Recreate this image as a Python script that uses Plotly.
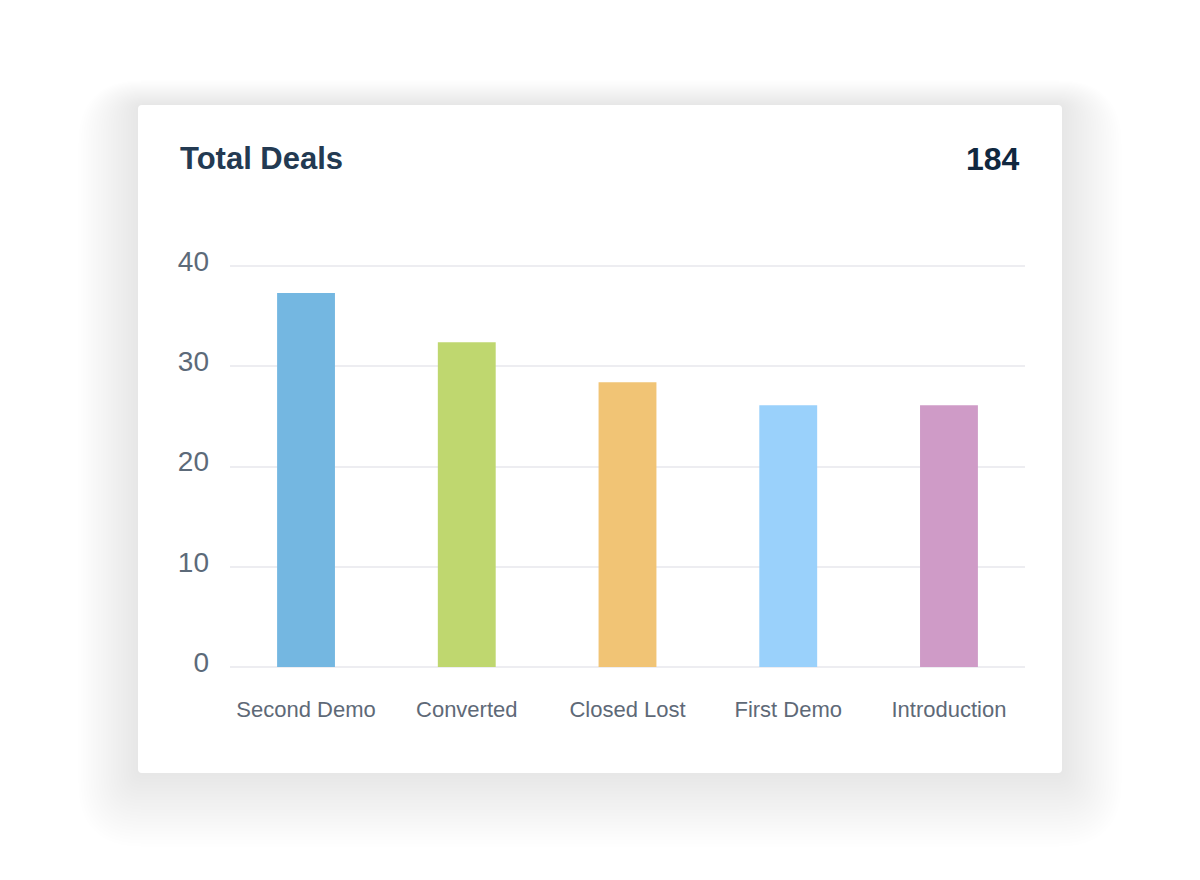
import plotly.graph_objects as go

categories = ["Second Demo", "Converted", "Closed Lost", "First Demo", "Introduction"]
deals = [37.3, 32.4, 28.4, 26.1, 26.1]
bar_colors = ["#74b7e1", "#bfd76f", "#f1c475", "#9ad1fb", "#cf9bc7"]
y_ticks = [0, 10, 20, 30, 40]
title_text = "Total Deals"
total_text = "184"

W, H = 1200, 880
OFF = 8  # page body margin
PX_PER_UNIT = (667 - 266) / 40
L, R, T, B = 230 - OFF, 1025 - OFF, 262 - OFF, 667 - OFF  # plot area in figure px
Y_MAX = (B - T) / PX_PER_UNIT


def px(x):
    return (x - OFF - L) / (R - L)


def py(y):
    return (B - (y - OFF)) / (B - T)


def rrect(x0, y0, x1, y1, r):
    pts = [
        f"M {px(x0 + r)},{py(y0)}",
        f"L {px(x1 - r)},{py(y0)}",
        f"Q {px(x1)},{py(y0)} {px(x1)},{py(y0 + r)}",
        f"L {px(x1)},{py(y1 - r)}",
        f"Q {px(x1)},{py(y1)} {px(x1 - r)},{py(y1)}",
        f"L {px(x0 + r)},{py(y1)}",
        f"Q {px(x0)},{py(y1)} {px(x0)},{py(y1 - r)}",
        f"L {px(x0)},{py(y0 + r)}",
        f"Q {px(x0)},{py(y0)} {px(x0 + r)},{py(y0)}",
        "Z",
    ]
    return " ".join(pts)


shapes = []
n = 24
for i in range(n):
    s = 60 * (n - i) / n
    off = 20 * (n - i) / n
    shapes.append(dict(
        type="path", xref="paper", yref="paper", layer="below",
        path=rrect(138 - s, 105 - s * 0.75 + off, 1062 + s, 773 + s * 0.9 + off, 4 + s),
        fillcolor="rgba(0,0,0,0.003)", line=dict(width=0),
    ))
shapes.append(dict(
    type="path", xref="paper", yref="paper", layer="below",
    path=rrect(138, 105, 1062, 773, 4),
    fillcolor="#ffffff", line=dict(width=0),
))

fig = go.Figure()
fig.add_trace(go.Bar(
    x=list(range(len(categories))), y=deals,
    marker=dict(color=bar_colors, line=dict(width=0)),
    width=0.36, hoverinfo="skip",
))

fig.update_layout(
    width=W, height=H, autosize=False,
    margin=dict(l=L, r=W - R, t=T, b=H - B, pad=0),
    paper_bgcolor="#ffffff", plot_bgcolor="rgba(0,0,0,0)",
    showlegend=False,
    shapes=shapes,
    font=dict(family="Liberation Sans, Arial, sans-serif"),
    xaxis=dict(
        range=[-0.473, 4.473], tickmode="array",
        tickvals=list(range(len(categories))), ticktext=categories,
        showgrid=False, zeroline=False, showline=False, ticks="",
        tickfont=dict(size=22, color="#5e6977"), ticklabelstandoff=27,
        fixedrange=True,
    ),
    yaxis=dict(
        range=[0, Y_MAX], tickmode="array", tickvals=y_ticks,
        showgrid=True, gridcolor="#ededf1", gridwidth=2,
        zeroline=True, zerolinecolor="#ededf1", zerolinewidth=2,
        showline=False, ticks="",
        tickfont=dict(size=28, color="#5c6a79"), ticklabelstandoff=20,
        ticklabelshift=-5,
        fixedrange=True,
    ),
    annotations=[
        dict(text=title_text, xref="paper", yref="paper", x=px(178), y=py(159),
             xanchor="left", yanchor="middle", showarrow=False,
             font=dict(size=31, color="#233a52", family="Liberation Sans, Arial, sans-serif", weight="bold")),
        dict(text=total_text, xref="paper", yref="paper", x=px(1022), y=py(159),
             xanchor="right", yanchor="middle", showarrow=False,
             font=dict(size=32, color="#10273f", family="Liberation Sans, Arial, sans-serif", weight="bold")),
    ],
)

fig.write_html("out.html")
